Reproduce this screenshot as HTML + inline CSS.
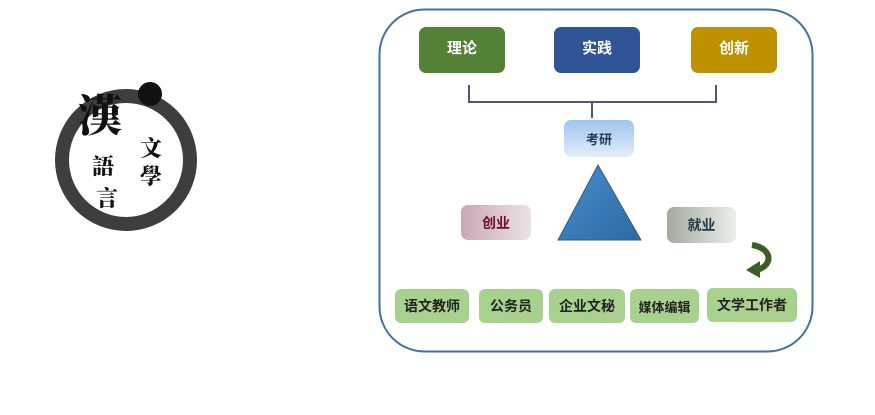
<!DOCTYPE html>
<html><head><meta charset="utf-8"><style>
body{margin:0;width:875px;height:415px;background:#fff;position:relative;overflow:hidden;font-family:"Liberation Sans","Noto Sans CJK SC",sans-serif}
.b{position:absolute;display:flex;align-items:center;justify-content:center;font-weight:bold;border-radius:7px}
.t{color:#fff;font-size:15px;box-sizing:border-box;padding-bottom:6px}
.g{background:#a9d18e;color:#222;font-size:14px;height:34px;top:289px;border-radius:6px}
.cj{font-family:"Noto Serif CJK SC","Noto Sans CJK SC",serif;position:absolute;font-weight:900;color:#111}
</style></head><body>
<svg width="875" height="415" style="position:absolute;left:0;top:0">
<circle cx="126" cy="160" r="64" fill="none" stroke="#1c1c1c" stroke-width="14" opacity="0.85"/>
<circle cx="150" cy="94" r="12" fill="#111"/>
<rect x="379.5" y="9.5" width="433" height="342" rx="45" fill="none" stroke="#41719c" stroke-width="2"/>
<path d="M469 85 V102 H716 V85 M592 102 V118" fill="none" stroke="#5b4f80" stroke-width="2"/>
<defs><linearGradient id="tr" x1="0" y1="0" x2="1" y2="1"><stop offset="0" stop-color="#4a8ccc"/><stop offset="1" stop-color="#2c6aa3"/></linearGradient></defs>
<polygon points="598,165 558,240 641,240" fill="url(#tr)" stroke="#2d5f8e"/>
<path d="M752 245 C772 248 774 265 757 270" fill="none" stroke="#3b5e23" stroke-width="6"/>
<polygon points="746,270 760,261 760,278" fill="#3b5e23"/>
</svg>
<div class="cj" style="left:78px;top:80px;font-size:44px">漢</div>
<div class="cj" style="left:140px;top:132px;font-size:22px">文</div>
<div class="cj" style="left:140px;top:160px;font-size:22px">學</div>
<div class="cj" style="left:92px;top:150px;font-size:22px">語</div>
<div class="cj" style="left:96px;top:182px;font-size:22px">言</div>
<div class="b t" style="left:419px;top:27px;width:86px;height:46px;background:#538135">理论</div>
<div class="b t" style="left:554px;top:27px;width:86px;height:46px;background:#2f5597">实践</div>
<div class="b t" style="left:691px;top:27px;width:86px;height:46px;background:#bf9000">创新</div>
<div class="b" style="left:564px;top:120px;width:70px;height:37px;background:linear-gradient(#9fc3ee,#e3eefb);color:#1f3a5a;font-size:13px">考研</div>
<div class="b" style="left:461px;top:205px;width:70px;height:35px;background:linear-gradient(90deg,#c9a9b5,#ece1e5);color:#6b0f2e;font-size:14px">创业</div>
<div class="b" style="left:667px;top:207px;width:69px;height:36px;background:linear-gradient(90deg,#a3a99e,#eceee9);color:#1f3a4a;font-size:14px">就业</div>
<div class="b g" style="left:395px;width:74px">语文教师</div>
<div class="b g" style="left:479px;width:64px">公务员</div>
<div class="b g" style="left:549px;width:76px">企业文秘</div>
<div class="b g" style="left:630px;width:69px;font-size:13px">媒体编辑</div>
<div class="b g" style="left:707px;width:90px;top:288px;font-size:14px">文学工作者</div>
</body></html>
